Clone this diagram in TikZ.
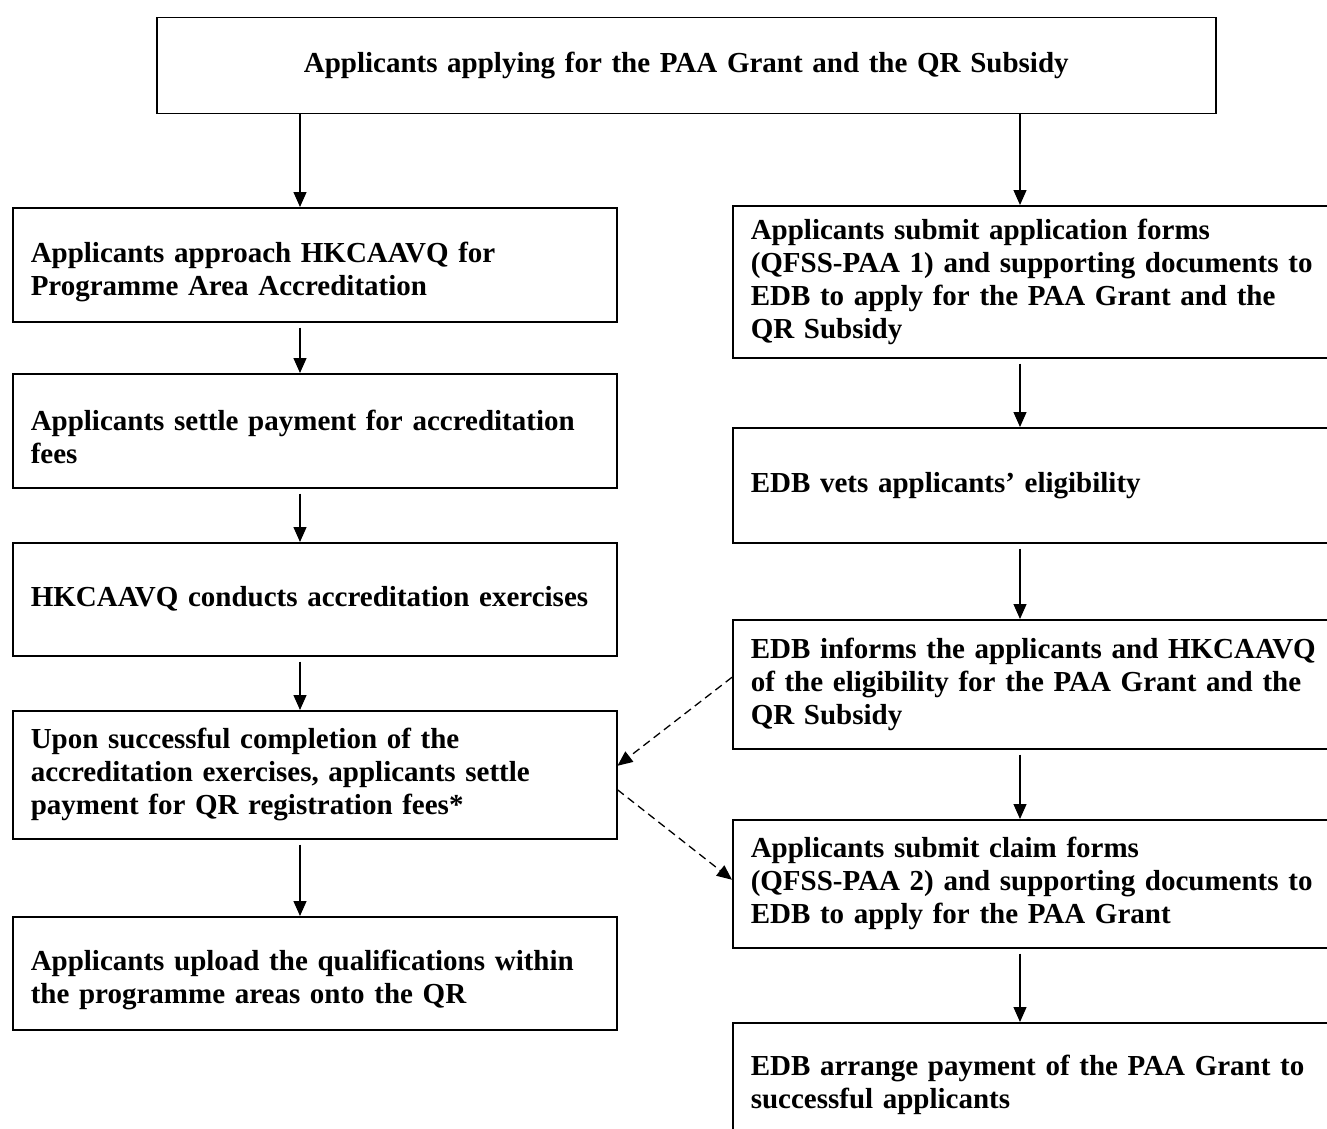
\documentclass[tikz,border=0pt]{standalone}
\usepackage{fontspec}
\setmainfont{Liberation Serif}
\usetikzlibrary{arrows.meta}

\newcommand{\drop}[1]{\rule{0pt}{#1}}

\begin{document}
\begin{tikzpicture}[x=1pt,y=-1pt,
    box/.style={draw, line width=1.5pt, rectangle, anchor=north west,
      inner xsep=18pt, inner ysep=0pt, align=left,
      font=\fontsize{29}{33}\selectfont\bfseries},
    lbox/.style={box, text width=568pt},
    rbox/.style={box, text width=580pt},
    flow/.style={-{Triangle[length=15pt,width=13pt]}, line width=1.3pt},
    link/.style={flow, dash pattern=on 8pt off 5pt}]
    \useasboundingbox (0,0) rectangle (1327,1129);
    \clip (0,0) rectangle (1327,1129);
    \coordinate (lx) at (300,0);
    \coordinate (rx) at (1020,0);

    \node[box, text width=1023pt, align=center, minimum height=96pt] (start) at (156,17)
      {Applicants applying for the PAA Grant and the QR Subsidy};

    % left column
    \node[lbox, minimum height=114pt] (approach) at (12,207)
      {\drop{34pt}Applicants approach HKCAAVQ for\\Programme Area Accreditation};
    \node[lbox, minimum height=114pt] (settle) at (12,373)
      {\drop{32pt}Applicants settle payment for accreditation\\fees};
    \node[lbox, minimum height=113pt] (conduct) at (12,542)
      {HKCAAVQ conducts accreditation exercises};
    \node[lbox, minimum height=128pt] (register) at (12,710)
      {Upon successful completion of the\\accreditation exercises, applicants settle\\payment for QR registration fees*};
    \node[lbox, minimum height=113pt] (upload) at (12,916)
      {\drop{34pt}Applicants upload the qualifications within\\the programme areas onto the QR};

    % right column
    \node[rbox, minimum height=152pt] (submit) at (732,205)
      {Applicants submit application forms\\(QFSS-PAA 1) and supporting documents to\\EDB to apply for the PAA Grant and the\\QR Subsidy};
    \node[rbox, minimum height=115pt] (vet) at (732,427)
      {EDB vets applicants’ eligibility};
    \node[rbox, minimum height=129pt] (inform) at (732,619)
      {EDB informs the applicants and HKCAAVQ\\of the eligibility for the PAA Grant and the\\QR Subsidy};
    \node[rbox, minimum height=128pt] (claim) at (732,819)
      {Applicants submit claim forms\\(QFSS-PAA 2) and supporting documents to\\EDB to apply for the PAA Grant};
    \node[rbox, minimum height=124pt] (pay) at (732,1022)
      {EDB arrange payment of the PAA Grant to\\successful applicants};

    \draw[flow] (start.south -| lx) -- (approach.north -| lx);
    \draw[flow] (start.south -| rx) -- (submit.north -| rx);
    \draw[flow, shorten <=5pt] (approach.south -| lx) -- (settle.north -| lx);
    \draw[flow, shorten <=5pt] (settle.south -| lx) -- (conduct.north -| lx);
    \draw[flow, shorten <=5pt] (conduct.south -| lx) -- (register.north -| lx);
    \draw[flow, shorten <=5pt] (register.south -| lx) -- (upload.north -| lx);
    \draw[flow, shorten <=5pt] (submit.south -| rx) -- (vet.north -| rx);
    \draw[flow, shorten <=5pt] (vet.south -| rx) -- (inform.north -| rx);
    \draw[flow, shorten <=5pt] (inform.south -| rx) -- (claim.north -| rx);
    \draw[flow, shorten <=5pt] (claim.south -| rx) -- (pay.north -| rx);

    \draw[link] ([yshift=7pt]inform.west) -- ([yshift=9pt]register.east);
    \draw[link] ([yshift=-15pt]register.east) -- ([yshift=4pt]claim.west);
\end{tikzpicture}
\end{document}
